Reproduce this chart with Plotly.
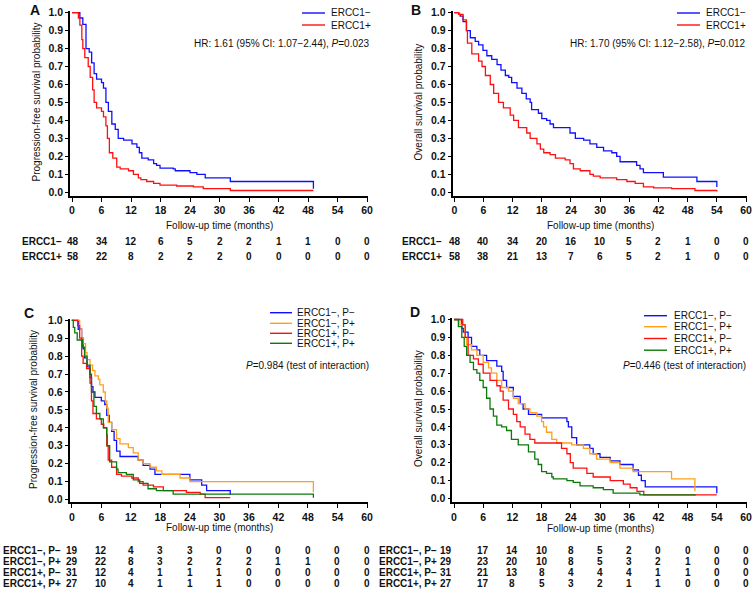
import plotly.graph_objects as go

W, H = 754, 593

# ---------------- data ----------------
tick_months = [0, 6, 12, 18, 24, 30, 36, 42, 48, 54, 60]
y_ticks = [0.0, 0.1, 0.2, 0.3, 0.4, 0.5, 0.6, 0.7, 0.8, 0.9, 1.0]

# Panel A: progression-free survival by ERCC1
A_neg_t = [0, 1.6, 2.2, 2.85, 3.5, 4.0, 4.5, 5.0, 6.0, 6.4, 6.9, 7.4, 8.1, 8.8, 9.4, 10.5, 12.2, 13.2, 13.7,
           14.2, 15.5, 16.6, 17.2, 17.9, 20.6, 21.0, 24.0, 25.4, 27.1, 32.2, 49.1]
A_neg_s = [1.0, 0.97, 0.935, 0.80, 0.78, 0.72, 0.66, 0.63, 0.61, 0.58, 0.50, 0.45, 0.38, 0.35, 0.30, 0.29, 0.27,
           0.25, 0.22, 0.19, 0.18, 0.16, 0.15, 0.135, 0.13, 0.12, 0.11, 0.10, 0.08, 0.06, 0.02]
A_pos_t = [0, 1.3, 1.6, 2.0, 2.2, 2.6, 3.3, 3.7, 4.2, 4.5, 5.0, 6.0, 6.4, 6.9, 7.2, 7.6, 8.3, 9.1, 9.8, 11.5,
           12.5, 13.5, 14.0, 15.2, 16.6, 17.9, 21.3, 24.7, 26.7, 32.2, 49.1]
A_pos_s = [1.0, 0.97, 0.93, 0.85, 0.80, 0.75, 0.70, 0.64, 0.57, 0.50, 0.47, 0.45, 0.42, 0.37, 0.30, 0.22, 0.19,
           0.14, 0.13, 0.12, 0.10, 0.08, 0.07, 0.06, 0.05, 0.04, 0.035, 0.03, 0.02, 0.01, 0.01]

# Panel B: overall survival by ERCC1
B_neg_t = [0, 0.9, 1.2, 1.8, 2.5, 3.3, 4.3, 5.0, 5.9, 6.7, 7.7, 8.8, 9.6, 10.5, 11.2, 11.8, 12.9, 13.9, 14.8,
           15.6, 15.9, 17.3, 18.0, 19.0, 19.7, 20.4, 23.8, 24.9, 26.6, 27.9, 29.3, 30.7, 32.4, 33.4, 34.1, 37.5,
           38.2, 38.9, 43.0, 49.9, 54.0]
B_neg_s = [1.0, 0.99, 0.98, 0.95, 0.90, 0.86, 0.84, 0.82, 0.79, 0.76, 0.74, 0.71, 0.68, 0.65, 0.64, 0.61, 0.58,
           0.55, 0.52, 0.50, 0.46, 0.44, 0.41, 0.40, 0.38, 0.36, 0.33, 0.30, 0.29, 0.27, 0.25, 0.23, 0.22, 0.20,
           0.17, 0.15, 0.13, 0.11, 0.085, 0.06, 0.03]
B_pos_t = [0, 0.9, 1.8, 2.5, 2.7, 3.6, 5.0, 5.7, 6.4, 7.4, 8.1, 9.1, 10.1, 11.5, 12.2, 13.2, 14.9, 15.6, 17.0,
           17.7, 18.4, 19.7, 20.8, 22.8, 23.8, 24.5, 25.9, 27.9, 28.6, 30.0, 33.4, 35.5, 37.2, 38.9, 41.0, 44.7,
           49.5, 54.0]
B_pos_s = [1.0, 0.99, 0.96, 0.90, 0.83, 0.77, 0.73, 0.70, 0.65, 0.60, 0.55, 0.50, 0.47, 0.43, 0.40, 0.36, 0.33,
           0.30, 0.27, 0.24, 0.22, 0.21, 0.19, 0.18, 0.16, 0.13, 0.12, 0.10, 0.09, 0.08, 0.07, 0.06, 0.05, 0.03,
           0.025, 0.02, 0.01, 0.005]

# Panel C: progression-free survival by ERCC1 x P
C_nn_t = [0, 1.3, 2.0, 2.3, 2.6, 3.1, 3.7, 4.0, 4.3, 4.7, 6.0, 6.7, 7.1, 7.6, 8.1, 8.6, 9.1, 9.8, 13.5, 14.5,
          15.9, 16.9, 24.0, 26.4, 27.4, 32.2]
C_nn_s = [1.0, 0.95, 0.90, 0.84, 0.79, 0.74, 0.68, 0.63, 0.60, 0.57, 0.55, 0.53, 0.47, 0.43, 0.38, 0.33, 0.27,
          0.24, 0.22, 0.19, 0.17, 0.14, 0.11, 0.08, 0.05, 0.025]
C_np_t = [0, 1.6, 2.0, 2.3, 2.8, 3.1, 3.7, 4.2, 4.7, 5.4, 5.7, 6.4, 6.8, 7.1, 7.4, 8.1, 9.1, 9.8, 11.5, 12.5,
          13.5, 14.5, 15.9, 17.2, 18.3, 22.0, 24.0, 49.1]
C_np_s = [1.0, 0.95, 0.90, 0.87, 0.82, 0.78, 0.75, 0.72, 0.69, 0.67, 0.64, 0.60, 0.55, 0.51, 0.43, 0.39, 0.34,
          0.31, 0.29, 0.26, 0.22, 0.20, 0.18, 0.16, 0.14, 0.12, 0.10, 0.04]
C_pn_t = [0, 1.2, 1.6, 2.0, 2.3, 3.0, 3.7, 4.0, 4.3, 5.0, 6.0, 6.5, 7.1, 7.4, 8.1, 9.1, 10.1, 12.2, 13.5, 14.5,
          16.6, 18.6, 23.3, 26.1, 27.1, 32.2]
C_pn_s = [1.0, 0.97, 0.90, 0.80, 0.76, 0.73, 0.65, 0.55, 0.48, 0.45, 0.42, 0.40, 0.30, 0.22, 0.18, 0.14, 0.13,
          0.12, 0.10, 0.08, 0.07, 0.05, 0.04, 0.03, 0.01, 0.01]
C_pp_t = [0, 0.3, 0.6, 1.1, 2.2, 2.6, 3.1, 3.7, 4.0, 4.5, 5.0, 5.7, 6.4, 7.1, 7.2, 7.7, 9.1, 9.4, 11.1, 12.5,
          13.8, 15.5, 17.2, 20.6, 49.1]
C_pp_s = [1.0, 0.96, 0.93, 0.89, 0.85, 0.80, 0.75, 0.70, 0.60, 0.52, 0.48, 0.45, 0.40, 0.36, 0.30, 0.21, 0.17,
          0.15, 0.14, 0.11, 0.09, 0.06, 0.05, 0.03, 0.01]

# Panel D: overall survival by ERCC1 x P
D_nn_t = [0, 1.6, 1.9, 2.9, 3.6, 4.7, 5.3, 6.7, 8.8, 9.8, 10.1, 10.8, 12.2, 13.6, 14.2, 15.3, 18.0, 23.2, 23.5,
          24.2, 25.2, 27.9, 28.6, 30.0, 32.1, 34.1, 36.8, 37.9, 38.5, 39.3, 54.0]
D_nn_s = [1.0, 0.95, 0.93, 0.90, 0.85, 0.83, 0.80, 0.77, 0.74, 0.71, 0.66, 0.62, 0.57, 0.53, 0.50, 0.47, 0.45,
          0.43, 0.40, 0.34, 0.30, 0.28, 0.25, 0.23, 0.21, 0.19, 0.16, 0.13, 0.10, 0.065, 0.03]
D_np_t = [0, 1.2, 2.3, 2.6, 3.6, 4.7, 6.0, 7.1, 7.7, 8.8, 9.8, 11.2, 12.2, 13.2, 14.6, 15.6, 17.0, 18.0, 18.4,
          19.0, 20.1, 21.1, 24.2, 26.6, 27.9, 29.3, 32.1, 34.1, 36.8, 44.7, 49.5]
D_np_s = [1.0, 0.97, 0.90, 0.86, 0.83, 0.80, 0.76, 0.73, 0.70, 0.66, 0.62, 0.60, 0.56, 0.53, 0.50, 0.48, 0.46,
          0.43, 0.40, 0.37, 0.33, 0.31, 0.30, 0.28, 0.25, 0.22, 0.20, 0.17, 0.15, 0.11, 0.04]
D_pn_t = [0, 1.8, 2.3, 2.9, 4.0, 5.0, 6.0, 7.4, 8.8, 9.5, 10.1, 11.2, 12.2, 12.9, 13.6, 14.6, 15.6, 16.6, 22.1,
          23.2, 23.9, 24.5, 27.3, 28.6, 32.1, 34.8, 36.2, 37.6, 39.0, 54.0]
D_pn_s = [1.0, 0.97, 0.90, 0.80, 0.78, 0.75, 0.70, 0.66, 0.63, 0.60, 0.55, 0.50, 0.47, 0.43, 0.40, 0.36, 0.33,
          0.31, 0.28, 0.25, 0.20, 0.17, 0.14, 0.12, 0.10, 0.08, 0.06, 0.04, 0.02, 0.02]
D_pp_t = [0, 0.9, 1.6, 2.1, 2.6, 3.3, 4.0, 4.7, 5.3, 6.0, 6.7, 7.4, 8.1, 8.8, 9.8, 10.8, 11.8, 13.2, 15.3, 16.6,
          17.3, 18.0, 19.0, 20.1, 20.4, 23.2, 24.5, 25.9, 28.6, 30.7, 32.7, 38.2, 49.5]
D_pp_s = [1.0, 0.96, 0.90, 0.85, 0.80, 0.76, 0.72, 0.70, 0.66, 0.62, 0.56, 0.50, 0.46, 0.41, 0.40, 0.38, 0.33,
          0.30, 0.26, 0.22, 0.19, 0.15, 0.14, 0.12, 0.11, 0.10, 0.09, 0.07, 0.06, 0.05, 0.03, 0.02, 0.015]

# Numbers at risk
A_risk_labels = ["ERCC1\u2212", "ERCC1+"]
A_risk = [[48, 34, 12, 6, 5, 2, 2, 1, 1, 0, 0],
          [58, 22, 8, 2, 2, 2, 0, 0, 0, 0, 0]]
B_risk_labels = ["ERCC1\u2212", "ERCC1+"]
B_risk = [[48, 40, 34, 20, 16, 10, 5, 2, 1, 0, 0],
          [58, 38, 21, 13, 7, 6, 5, 2, 1, 0, 0]]
CD_risk_labels = ["ERCC1\u2212, P\u2212", "ERCC1\u2212, P+", "ERCC1+, P\u2212", "ERCC1+, P+"]
C_risk = [[19, 12, 4, 3, 3, 0, 0, 0, 0, 0, 0],
          [29, 22, 8, 3, 2, 2, 2, 1, 1, 0, 0],
          [31, 12, 4, 1, 1, 1, 0, 0, 0, 0, 0],
          [27, 10, 4, 1, 1, 1, 0, 0, 0, 0, 0]]
D_risk = [[19, 17, 14, 10, 8, 5, 2, 0, 0, 0, 0],
          [29, 23, 20, 10, 8, 5, 3, 2, 1, 0, 0],
          [31, 21, 13, 8, 4, 4, 4, 1, 1, 0, 0],
          [27, 17, 8, 5, 3, 2, 1, 1, 0, 0, 0]]

AB_names = ["ERCC1\u2212", "ERCC1+"]
CD_names = CD_risk_labels

# ---------------- style ----------------
BLUE, RED, ORANGE, GREEN = "#1010ff", "#ff1010", "#ffa01c", "#0a7a0a"
FONT = "Liberation Sans, Arial, Helvetica, sans-serif"
TXT = "#111111"


def py(p):
    return 1 - p / H


def px(p):
    return p / W


panels = {
    "A": dict(ax="", xz=72.0, x60=367.0, left=70.0, right=368.0, y1=12.6, y0=192.3, top=11.3, bottom=195.7),
    "B": dict(ax="2", xz=454.3, x60=746.0, left=452.5, right=747.0, y1=12.6, y0=192.3, top=11.3, bottom=195.7),
    "C": dict(ax="3", xz=71.8, x60=367.0, left=69.6, right=368.0, y1=320.3, y0=499.5, top=319.0, bottom=502.3),
    "D": dict(ax="4", xz=454.0, x60=746.0, left=452.3, right=747.0, y1=319.5, y0=498.5, top=318.3, bottom=502.3),
}

fig = go.Figure()

series = {
    "A": [(A_neg_t, A_neg_s, BLUE), (A_pos_t, A_pos_s, RED)],
    "B": [(B_neg_t, B_neg_s, BLUE), (B_pos_t, B_pos_s, RED)],
    "C": [(C_nn_t, C_nn_s, BLUE), (C_np_t, C_np_s, ORANGE), (C_pn_t, C_pn_s, RED), (C_pp_t, C_pp_s, GREEN)],
    "D": [(D_nn_t, D_nn_s, BLUE), (D_np_t, D_np_s, ORANGE), (D_pn_t, D_pn_s, RED), (D_pp_t, D_pp_s, GREEN)],
}

layout_axes = {}
for key, p in panels.items():
    ppm = (p["x60"] - p["xz"]) / 60.0
    xr = [(p["left"] - p["xz"]) / ppm, 60 + (p["right"] - p["x60"]) / ppm]
    ppu = p["y0"] - p["y1"]
    yr = [-(p["bottom"] - p["y0"]) / ppu, 1 + (p["y1"] - p["top"]) / ppu]
    xname = "xaxis" + p["ax"]
    yname = "yaxis" + p["ax"]
    layout_axes[xname] = dict(
        domain=[px(p["left"]), px(p["right"])], range=xr, anchor="y" + p["ax"],
        tickvals=tick_months, ticktext=[str(v) for v in tick_months],
        ticks="outside", ticklen=4, tickwidth=1.3, tickcolor="black",
        showline=True, linewidth=1.6, linecolor="black", automargin=False,
        showgrid=False, zeroline=False, fixedrange=True,
        tickfont=dict(family=FONT, size=10.5, color=TXT, weight="bold"),
    )
    layout_axes[yname] = dict(
        domain=[py(p["bottom"]), py(p["top"])], range=yr, anchor="x" + p["ax"],
        tickvals=y_ticks, ticktext=["%.1f" % v for v in y_ticks],
        ticks="outside", ticklen=3, tickwidth=1.3, tickcolor="black",
        showline=True, linewidth=1.6, linecolor="black", automargin=False,
        showgrid=False, zeroline=False, fixedrange=True,
        tickfont=dict(family=FONT, size=10.5, color=TXT, weight="bold"),
    )
    for t, s, c in series[key]:
        fig.add_trace(go.Scatter(
            x=t, y=s, mode="lines", line=dict(color=c, width=1.3, shape="hv"),
            xaxis="x" + p["ax"], yaxis="y" + p["ax"], showlegend=False, hoverinfo="skip"))

fig.update_layout(**layout_axes)

ann = []
shapes = []


def text(x, y, s, size=10, anchor="left", bold=False, angle=0, xref="paper"):
    ann.append(dict(
        x=x, y=py(y), xref=xref, yref="paper", text=s, showarrow=False,
        xanchor=anchor, yanchor="middle", textangle=angle,
        font=dict(family=FONT, size=size, color=TXT, weight="bold" if bold else "normal")))


# panel letters
text(px(35), 10, "A", size=14, anchor="center", bold=True)
text(px(416), 10, "B", size=14, anchor="center", bold=True)
text(px(29), 313, "C", size=14, anchor="center", bold=True)
text(px(415), 312, "D", size=14, anchor="center", bold=True)

# y-axis titles
text(px(36), (12.6 + 192.3) / 2, "Progression-free survival probability", size=10, anchor="center", angle=-90)
text(px(418), (12.6 + 192.3) / 2, "Overall survival probability", size=10, anchor="center", angle=-90)
text(px(34), (320.3 + 499.5) / 2, "Progression-free survival probability", size=10, anchor="center", angle=-90)
text(px(418), (319.5 + 498.5) / 2, "Overall survival probability", size=10, anchor="center", angle=-90)

# x-axis titles
text(px((72 + 367) / 2), 225, "Follow-up time (months)", size=10, anchor="center")
text(px((454 + 746) / 2), 225, "Follow-up time (months)", size=10, anchor="center")
text(px((72 + 367) / 2), 527, "Follow-up time (months)", size=10, anchor="center")
text(px((454 + 746) / 2), 528, "Follow-up time (months)", size=10, anchor="center")

# legends (manual, compact like the original)
def legend(x0, x1, xt, ys, names, colors):
    for yy, nm, c in zip(ys, names, colors):
        shapes.append(dict(type="line", xref="paper", yref="paper", x0=px(x0), x1=px(x1),
                           y0=py(yy), y1=py(yy), line=dict(color=c, width=1.4)))
        text(px(xt), yy, nm, size=10)


legend(302, 325, 329, [13, 25], AB_names, [BLUE, RED])
legend(677, 700, 704, [13, 25], AB_names, [BLUE, RED])
legend(270, 292, 295, [312.7, 323.3, 333.3, 343.3], CD_names, [BLUE, ORANGE, RED, GREEN])
legend(644, 667, 672, [315.7, 326.7, 338.5, 350.2], CD_names, [BLUE, ORANGE, RED, GREEN])

text(px(372), 43, "HR: 1.61 (95% CI: 1.07\u22122.44), <i>P</i>=0.023", size=10, anchor="right")
text(px(748), 43, "HR: 1.70 (95% CI: 1.12\u22122.58), <i>P</i>=0.012", size=10, anchor="right")
text(px(371), 365, "<i>P</i>=0.984 (test of interaction)", size=10, anchor="right")
text(px(748), 365, "<i>P</i>=0.446 (test of interaction)", size=10, anchor="right")


# numbers at risk
def risk_table(axname, labels, rows, label_x, ys, first_shift=0):
    for lab, row, yy in zip(labels, rows, ys):
        text(px(label_x), yy, lab, size=10, bold=True)
        for i, (m, n) in enumerate(zip(tick_months, row)):
            a = dict(x=m, y=py(yy), xref=axname, yref="paper", text=str(n), showarrow=False,
                     xanchor="center", yanchor="middle",
                     font=dict(family=FONT, size=10, color=TXT, weight="bold"))
            if i == 0 and first_shift:
                a["xshift"] = first_shift
            ann.append(a)


risk_table("x", A_risk_labels, A_risk, 20, [241.7, 256.7], first_shift=1)
risk_table("x2", B_risk_labels, B_risk, 400, [241.7, 256.7], first_shift=1)
risk_table("x3", CD_risk_labels, C_risk, 1, [550.7, 561.7, 572.7, 583.3])
risk_table("x4", CD_risk_labels, D_risk, 377, [550.7, 561.7, 572.7, 583.3], first_shift=-8)

fig.update_layout(
    width=W, height=H, margin=dict(l=0, r=0, t=0, b=0, autoexpand=False),
    paper_bgcolor="white", plot_bgcolor="white",
    annotations=ann, shapes=shapes, showlegend=False,
    font=dict(family=FONT, color=TXT),
)

fig.write_html(
    "out.html",
    config={"displayModeBar": False, "responsive": False},
    post_script="document.body.style.margin='0px';document.body.style.overflow='hidden';",
)
